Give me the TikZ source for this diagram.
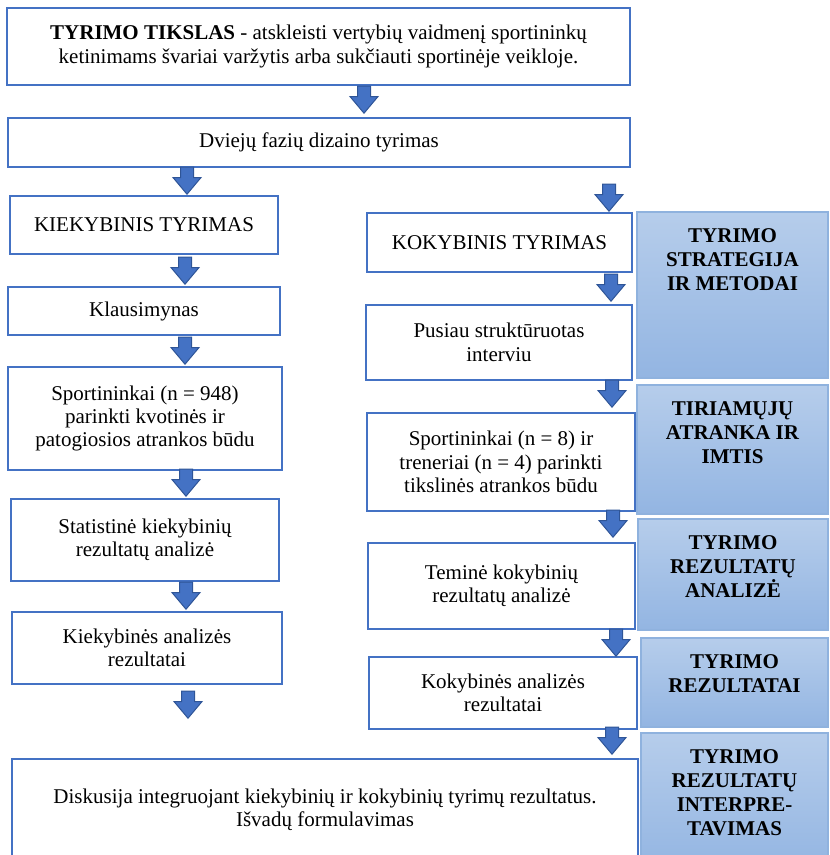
\documentclass[tikz,border=0pt]{standalone}
\usepackage{fontspec}
\setmainfont{Liberation Serif}
\usepackage{xcolor}
\usepackage{tikz}
\usetikzlibrary{shapes.arrows}
\usetikzlibrary{positioning}
\definecolor{boxblue}{RGB}{68,114,196}
\definecolor{arrowedge}{RGB}{47,85,151}
\definecolor{lightblue}{RGB}{182,205,235}
\definecolor{midblue}{RGB}{147,181,226}
\definecolor{paleedge}{RGB}{143,178,222}
\tikzstyle{stepbox} = [draw=boxblue, line width=1.2pt, fill=white,
rectangle, inner sep=0pt, align=center, font=\fontsize{10.5}{11.7}\selectfont]
\tikzstyle{bluebox} = [draw=paleedge, line width=0.6pt, top color=lightblue,
bottom color=midblue, rectangle, inner sep=0pt]
\tikzstyle{bluetext} = [inner sep=0pt, align=center, font=\fontsize{10.5}{12}\selectfont\bfseries]
\tikzstyle{darrow} = [single arrow, rotate=-90, anchor=tip, fill=boxblue, draw=arrowedge,
line width=0.5pt, inner xsep=0pt, inner ysep=3pt, minimum height=13.5pt, minimum width=13.5pt,
single arrow head extend=3.75pt, single arrow tip angle=80]

\begin{document}
\begin{tikzpicture}[x=0.5pt, y=-0.5pt]
        \useasboundingbox (0,0) rectangle (829,855);
        \clip (0,0) rectangle (829,855);
        \node[stepbox, minimum width=311.5pt, minimum height=38.5pt] (aim) at (318.5,46.5)
            {\textbf{TYRIMO TIKSLAS} - atskleisti vertybių vaidmenį sportininkų\\
             ketinimams švariai varžytis arba sukčiauti sportinėje veikloje.};
        \node[stepbox, minimum width=311pt, minimum height=24.5pt] (design) at (319,142.5)
            {Dviejų fazių dizaino tyrimas};
        \node[stepbox, minimum width=134pt, minimum height=29pt] (quant) at (144,225)
            {KIEKYBINIS TYRIMAS};
        \node[stepbox, minimum width=136pt, minimum height=24pt] (survey) at (144,311)
            {Klausimynas};
        \node[stepbox, minimum width=137pt, minimum height=51.5pt] (quantsample) at (145,418.5)
            {Sportininkai (n = 948)\\parinkti kvotinės ir\\patogiosios atrankos būdu};
        \node[stepbox, minimum width=134pt, minimum height=41pt] (quantanal) at (145,540)
            {Statistinė kiekybinių\\rezultatų analizė};
        \node[stepbox, minimum width=135pt, minimum height=36pt] (quantres) at (147,648)
            {Kiekybinės analizės\\rezultatai};
        \node[stepbox, minimum width=132.5pt, minimum height=29.5pt] (qual) at (499.5,242.5)
            {KOKYBINIS TYRIMAS};
        \node[stepbox, minimum width=133pt, minimum height=37.5pt] (interview) at (499,342.5)
            {Pusiau struktūruotas\\interviu};
        \node[stepbox, minimum width=134pt, minimum height=49pt] (qualsample) at (501,462)
            {Sportininkai (n = 8) ir\\treneriai (n = 4) parinkti\\tikslinės atrankos būdu};
        \node[stepbox, minimum width=133.5pt, minimum height=43pt] (qualanal) at (501.5,586)
            {Teminė kokybinių\\rezultatų analizė};
        \node[stepbox, minimum width=134pt, minimum height=36pt] (qualres) at (503,693)
            {Kokybinės analizės\\rezultatai};
        \node[stepbox, minimum width=313pt, minimum height=50.5pt] (discuss) at (325,809.5)
            {Diskusija integruojant kiekybinių ir kokybinių tyrimų rezultatus.\\
             Išvadų formulavimas};

        \node[darrow] (a1) at (364,114) {};
        \node[darrow] (a2) at (187,195) {};
        \node[darrow] (a3) at (609,212) {};
        \node[darrow] (a4) at (185,285) {};
        \node[darrow] (a5) at (611,302) {};
        \node[darrow] (a6) at (185,365) {};
        \node[darrow] (a7) at (612,408) {};
        \node[darrow] (a8) at (186,497) {};
        \node[darrow] (a9) at (613,538) {};
        \node[darrow] (a10) at (186,610) {};
        \node[darrow] (a11) at (616,657) {};
        \node[darrow] (a12) at (188,719) {};
        \node[darrow] (a13) at (612,755) {};

        \node[bluebox, minimum width=95.5pt, minimum height=83pt] (strategy) at (732.5,295) {};
        \node[bluetext, below=8.5pt of strategy.north] (strategytxt) {TYRIMO\\STRATEGIJA\\IR METODAI};
        \node[bluebox, minimum width=95.5pt, minimum height=64.5pt] (sample) at (732.5,449.5) {};
        \node[bluetext, below=8.5pt of sample.north] (sampletxt) {TIRIAMŲJŲ\\ATRANKA IR\\IMTIS};
        \node[bluebox, minimum width=95pt, minimum height=55.5pt] (analysis) at (733,574.5) {};
        \node[bluetext, below=8.5pt of analysis.north] (analysistxt) {TYRIMO\\REZULTATŲ\\ANALIZĖ};
        \node[bluebox, minimum width=93.5pt, minimum height=44.5pt] (results) at (734.5,682.5) {};
        \node[bluetext, below=8.5pt of results.north] (resultstxt) {TYRIMO\\REZULTATAI};
        \node[bluebox, minimum width=93.5pt, minimum height=68.5pt] (interp) at (734.5,801.5) {};
        \node[bluetext, below=8.5pt of interp.north] (interptxt) {TYRIMO\\REZULTATŲ\\INTERPRE-\\TAVIMAS};
    \end{tikzpicture}
\end{document}
